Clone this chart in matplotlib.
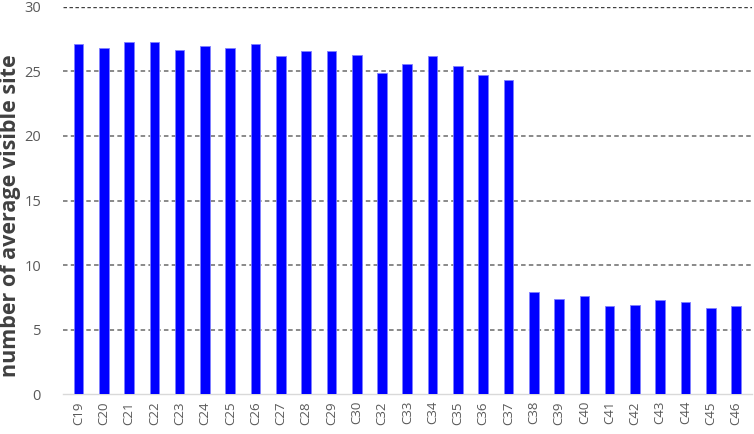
import matplotlib.pyplot as plt
import numpy as np

plt.rcParams['font.family'] = ['Open Sans', 'DejaVu Sans']

labels = ['C19', 'C20', 'C21', 'C22', 'C23', 'C24', 'C25', 'C26', 'C27', 'C28',
          'C29', 'C30', 'C32', 'C33', 'C34', 'C35', 'C36', 'C37', 'C38', 'C39',
          'C40', 'C41', 'C42', 'C43', 'C44', 'C45', 'C46']
values = [27.1, 26.8, 27.3, 27.3, 26.7, 27.0, 26.8, 27.1, 26.2, 26.6,
          26.6, 26.3, 24.9, 25.6, 26.2, 25.4, 24.7, 24.3, 7.9, 7.4,
          7.6, 6.8, 6.9, 7.3, 7.1, 6.7, 6.8]

fig = plt.figure(figsize=(7.54, 4.34), dpi=100)
ax = fig.add_axes([0.084, 0.092, 0.914, 0.892])

x = np.arange(len(labels))
ax.bar(x, values, width=0.38, color='#0000ff', edgecolor='#7f7fff', linewidth=0.6, zorder=3)

ax.set_ylim(0, 30)
ax.set_xlim(-0.6, 26.65)
ax.set_yticks(range(0, 31, 5))
ax.set_xticks(x)
ax.set_xticklabels(labels, rotation=90)
ax.tick_params(axis='x', length=0, colors='#595959', labelsize=9.5, pad=5)
ax.tick_params(axis='y', length=0, colors='#595959', labelsize=10.5, pad=16)

for y in range(5, 31, 5):
    ax.axhline(y, color='#808080' if y < 30 else '#404040', linestyle=(0, (2.5, 1.8)),
               linewidth=1.3 if y < 30 else 1.0, zorder=1)

for s in ['top', 'right', 'left']:
    ax.spines[s].set_visible(False)
ax.spines['bottom'].set_color('#d9d9d9')
ax.spines['bottom'].set_linewidth(1.0)

ax.set_ylabel('number of average visible site', fontsize=15.5, fontweight='bold',
              color='#404040')
ax.yaxis.set_label_coords(-0.062, 0.46)

fig.savefig('out.png', dpi=100)
